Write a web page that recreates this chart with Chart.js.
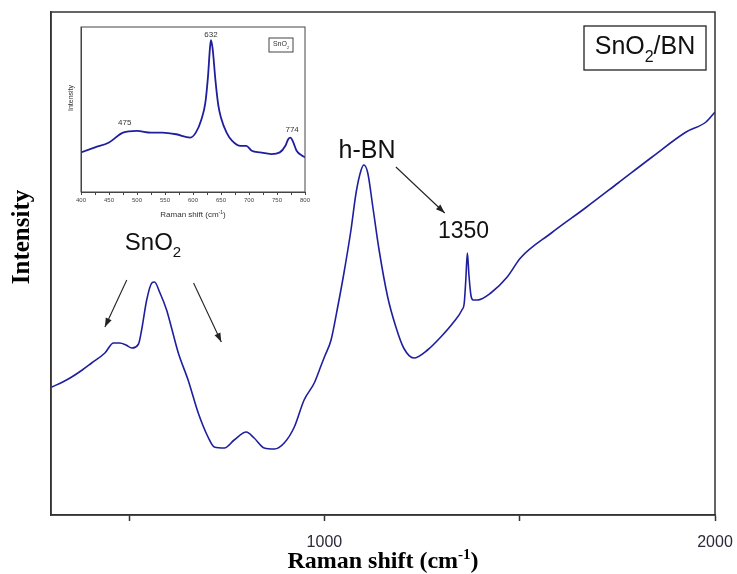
<!DOCTYPE html>
<html>
<head>
<meta charset="utf-8">
<script src="https://cdn.jsdelivr.net/npm/chart.js@4"></script>
<style>
  html,body{margin:0;padding:0;background:#fff;}
  #wrap{position:relative;width:737px;height:574px;}
  #main{position:absolute;left:0;top:0;}
  #inset{position:absolute;left:58px;top:18px;}
</style>
</head>
<body>
<div id="wrap">
  <canvas id="main" width="737" height="574"></canvas>
  <canvas id="inset" width="256" height="206"></canvas>
</div>
<script>
// ---- main spectrum (SnO2/BN) ----
const mainShift = [302, 330, 353, 380, 404, 438, 460, 476, 492, 507, 524, 532, 545, 558, 565, 578, 596, 608, 626, 651, 677, 702, 718, 744, 769, 800, 820, 846, 872, 897, 923, 948, 974, 992, 1000, 1017, 1034, 1050, 1068, 1081, 1094, 1101, 1111, 1124, 1140, 1162, 1183, 1203, 1229, 1264, 1298, 1331, 1352, 1358, 1362, 1366, 1370, 1375, 1381, 1392, 1426, 1468, 1502, 1581, 1668, 1752, 1839, 1926, 1977, 2000];
const mainIntensity = [128, 133, 138, 145, 152, 162, 172, 172, 170, 167, 171, 185, 215, 232, 233, 223, 205, 188, 162, 135, 102, 78, 68, 67, 75, 83, 77, 67, 66, 72, 88, 115, 132, 150, 158, 175, 208, 242, 285, 322, 345, 350, 342, 308, 265, 218, 188, 167, 157, 165, 178, 193, 205, 212, 235, 262, 240, 220, 215, 215, 222, 238, 257, 282, 307, 332, 358, 383, 393, 403];
const mainTicks = [500, 1000, 1500, 2000];
const mainTickLabels = ['', '1000', '', '2000'];

// ---- inset spectrum (SnO2) ----
const insetShift = [400, 425, 450, 475, 500, 525, 545, 570, 595, 605, 615, 622, 627, 630, 632, 635, 640, 645, 650, 660, 670, 685, 695, 705, 720, 740, 755, 765, 770, 774, 778, 785, 795, 800];
const insetIntensity = [24, 27, 30, 36, 37, 36, 36, 35, 33, 36, 44, 54, 71, 86, 92, 87, 68, 53, 45, 36, 31, 28, 28, 25, 24, 23, 24, 28, 32, 33, 31, 25, 22, 21];
const insetTicks = [400, 425, 450, 475, 500, 525, 550, 575, 600, 625, 650, 675, 700, 725, 750, 775, 800];
const insetTickLabels = ['400', '', '450', '', '500', '', '550', '', '600', '', '650', '', '700', '', '750', '', '800'];

const LINE = '#1f1f9e';

function arrow(ctx, x1, y1, x2, y2) {
  ctx.save();
  ctx.strokeStyle = '#222'; ctx.fillStyle = '#222'; ctx.lineWidth = 1.1;
  ctx.beginPath(); ctx.moveTo(x1, y1); ctx.lineTo(x2, y2); ctx.stroke();
  const a = Math.atan2(y2 - y1, x2 - x1), L = 9, W = 3.2;
  ctx.beginPath();
  ctx.moveTo(x2, y2);
  ctx.lineTo(x2 - L * Math.cos(a) + W * Math.sin(a), y2 - L * Math.sin(a) - W * Math.cos(a));
  ctx.lineTo(x2 - L * Math.cos(a) - W * Math.sin(a), y2 - L * Math.sin(a) + W * Math.cos(a));
  ctx.closePath(); ctx.fill();
  ctx.restore();
}

// parts: [[text, shift]] shift: 0 normal, 1 subscript, -1 superscript
function richText(ctx, parts, x, y, size, align, family, weight) {
  ctx.save();
  ctx.textBaseline = 'middle';
  family = family || '"Liberation Sans", Arial, sans-serif';
  weight = weight || '';
  const fMain = weight + ' ' + size + 'px ' + family;
  const fSmall = weight + ' ' + Math.round(size * 0.62) + 'px ' + family;
  let w = 0;
  parts.forEach(p => { ctx.font = p[1] ? fSmall : fMain; w += ctx.measureText(p[0]).width; });
  let cx = align === 'center' ? x - w / 2 : x;
  ctx.textAlign = 'left';
  parts.forEach(p => {
    ctx.font = p[1] ? fSmall : fMain;
    const dy = p[1] === 1 ? size * 0.42 : (p[1] === -1 ? -size * 0.3 : 0);
    ctx.fillText(p[0], cx, y + dy);
    cx += ctx.measureText(p[0]).width;
  });
  ctx.restore();
}

const mainDecor = {
  id: 'mainDecor',
  beforeDraw(chart) {
    const ctx = chart.ctx;
    ctx.save(); ctx.fillStyle = '#fff'; ctx.fillRect(0, 0, chart.width, chart.height); ctx.restore();
  },
  afterDraw(chart) {
    const ctx = chart.ctx, a = chart.chartArea;
    const xs = chart.scales.x, ys = chart.scales.y;
    const X = v => xs.getPixelForValue(v), Y = v => ys.getPixelForValue(v);
    ctx.save();
    ctx.strokeStyle = '#333'; ctx.lineWidth = 1.5;
    ctx.strokeRect(a.left, a.top, a.right - a.left, a.bottom - a.top);
    // legend box
    ctx.lineWidth = 1.3;
    ctx.strokeStyle = '#222';
    ctx.strokeRect(a.right - 131, a.top + 14, 122, 44);
    ctx.fillStyle = '#111';
    richText(ctx, [['SnO', 0], ['2', 1], ['/BN', 0]], a.right - 70, a.top + 35, 25, 'center');
    // annotations
    richText(ctx, [['SnO', 0], ['2', 1]], X(489), Y(272), 24, 'left');
    arrow(ctx, X(494), Y(235), X(438), Y(188));
    arrow(ctx, X(665), Y(232), X(736), Y(173));
    ctx.font = '25px "Liberation Sans", Arial, sans-serif';
    ctx.textAlign = 'center'; ctx.textBaseline = 'middle';
    ctx.fillText('h-BN', X(1109), Y(364));
    arrow(ctx, X(1183), Y(348), X(1308), Y(302));
    ctx.font = '23px "Liberation Sans", Arial, sans-serif';
    ctx.fillText('1350', X(1356), Y(283));
    // axis titles
    ctx.fillStyle = '#000';
    const serif = '"Liberation Serif", "Times New Roman", serif';
    richText(ctx, [['Raman shift (cm', 0], ['-1', -1], [')', 0]], (a.left + a.right) / 2, 562, 24, 'center', serif, 'bold');
    ctx.save();
    ctx.translate(23, 237);
    ctx.rotate(-Math.PI / 2);
    ctx.font = 'bold 25px ' + serif;
    ctx.textAlign = 'center'; ctx.textBaseline = 'middle';
    ctx.fillText('Intensity', 0, 0);
    ctx.restore();
    ctx.restore();
  }
};

new Chart(document.getElementById('main'), {
  type: 'line',
  data: {
    datasets: [{
      data: mainShift.map((x, i) => ({ x: x, y: mainIntensity[i] })),
      borderColor: LINE, borderWidth: 1.6, pointRadius: 0,
      cubicInterpolationMode: 'monotone', fill: false
    }]
  },
  options: {
    responsive: false, animation: false,
    layout: { padding: { left: 0, right: 22, top: 12, bottom: 0 } },
    plugins: { legend: { display: false }, tooltip: { enabled: false } },
    scales: {
      x: {
        type: 'linear', min: 300, max: 2000,
        afterBuildTicks: s => { s.ticks = mainTicks.map(v => ({ value: v })); },
        afterFit: s => { s.height = 59; s.paddingLeft = 0; s.paddingRight = 0; },
        grid: { display: true, drawOnChartArea: false, drawTicks: true, tickLength: 6, tickColor: '#333', tickWidth: 1.5 },
        border: { display: true, color: '#333', width: 1.5 },
        ticks: {
          padding: 12, color: '#2a2a3a', maxRotation: 0, autoSkip: false,
          font: { family: '"Liberation Sans", Arial, sans-serif', size: 16 },
          callback: (v) => { const i = mainTicks.indexOf(v); return i >= 0 ? mainTickLabels[i] : ''; }
        },
        title: { display: false }
      },
      y: {
        min: 0, max: 503,
        afterFit: s => { s.width = 51; s.paddingTop = 0; s.paddingBottom = 0; },
        grid: { display: false },
        border: { display: true, color: '#333', width: 1.5 },
        ticks: { display: false }
      }
    }
  },
  plugins: [mainDecor]
});

const insetDecor = {
  id: 'insetDecor',
  afterDraw(chart) {
    const ctx = chart.ctx, a = chart.chartArea;
    const xs = chart.scales.x, ys = chart.scales.y;
    const X = v => xs.getPixelForValue(v), Y = v => ys.getPixelForValue(v);
    ctx.save();
    ctx.strokeStyle = '#444'; ctx.lineWidth = 1;
    ctx.strokeRect(a.left, a.top, a.right - a.left, a.bottom - a.top);
    ctx.strokeRect(a.right - 36, a.top + 11, 24, 14);
    ctx.fillStyle = '#333';
    richText(ctx, [['SnO', 0], ['2', 1]], a.right - 24, a.top + 17.5, 7, 'center');
    ctx.font = '8px "Liberation Sans", Arial, sans-serif';
    ctx.textAlign = 'center'; ctx.textBaseline = 'middle';
    ctx.fillText('475', X(478), Y(42));
    ctx.fillText('632', X(632), Y(95));
    ctx.fillText('774', X(777), Y(38));
    richText(ctx, [['Raman shift (cm', 0], ['-1', -1], [')', 0]], (a.left + a.right) / 2, a.bottom + 23, 8, 'center');
    ctx.save();
    ctx.translate(13, 80);
    ctx.rotate(-Math.PI / 2);
    ctx.font = '7px "Liberation Sans", Arial, sans-serif';
    ctx.fillText('Intensity', 0, 0);
    ctx.restore();
    ctx.restore();
  }
};

new Chart(document.getElementById('inset'), {
  type: 'line',
  data: {
    datasets: [{
      data: insetShift.map((x, i) => ({ x: x, y: insetIntensity[i] })),
      borderColor: LINE, borderWidth: 1.8, pointRadius: 0,
      cubicInterpolationMode: 'monotone', fill: false
    }]
  },
  options: {
    responsive: false, animation: false,
    layout: { padding: { left: 0, right: 9, top: 9, bottom: 0 } },
    plugins: { legend: { display: false }, tooltip: { enabled: false } },
    scales: {
      x: {
        type: 'linear', min: 400, max: 800,
        afterBuildTicks: s => { s.ticks = insetTicks.map(v => ({ value: v })); },
        afterFit: s => { s.height = 32; s.paddingLeft = 0; s.paddingRight = 0; },
        grid: { display: true, drawOnChartArea: false, tickLength: 3, tickColor: '#444' },
        border: { display: true, color: '#444', width: 1 },
        ticks: {
          padding: 2, color: '#444', maxRotation: 0, autoSkip: false,
          font: { family: '"Liberation Sans", Arial, sans-serif', size: 6 },
          callback: (v) => { const i = insetTicks.indexOf(v); return i >= 0 ? insetTickLabels[i] : ''; }
        },
        title: { display: false }
      },
      y: {
        min: 0, max: 100,
        afterFit: s => { s.width = 23; s.paddingTop = 0; s.paddingBottom = 0; },
        grid: { display: false },
        border: { display: true, color: '#444', width: 1 },
        ticks: { display: false }
      }
    }
  },
  plugins: [insetDecor]
});
</script>
</body>
</html>
